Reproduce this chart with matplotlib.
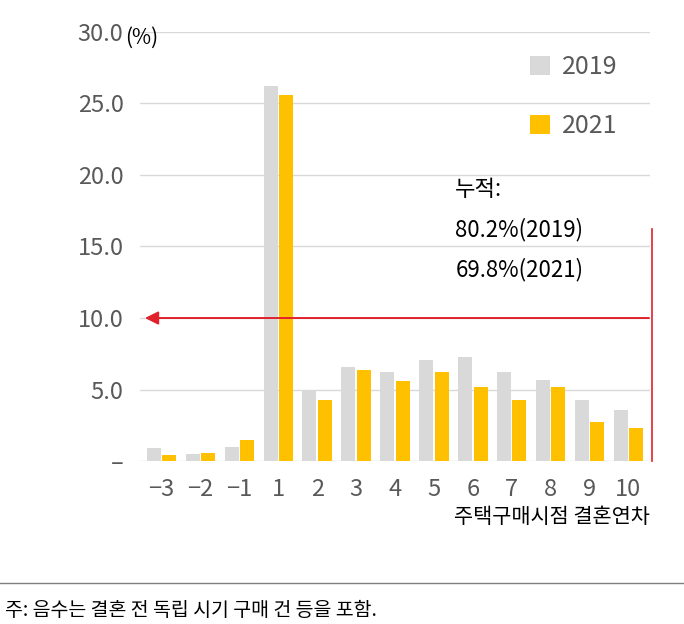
import matplotlib.pyplot as plt
import numpy as np
from matplotlib.lines import Line2D

plt.rcParams["font.family"] = ["Noto Sans CJK KR", "Noto Sans CJK JP", "Noto Sans CJK SC", "DejaVu Sans"]
plt.rcParams["axes.unicode_minus"] = True

categories = ["-3", "-2", "-1", "1", "2", "3", "4", "5", "6", "7", "8", "9", "10"]
share_2019 = [0.9, 0.5, 1.0, 26.2, 5.0, 6.6, 6.2, 7.1, 7.3, 6.2, 5.7, 4.3, 3.6]
share_2021 = [0.4, 0.6, 1.5, 25.6, 4.3, 6.4, 5.6, 6.2, 5.2, 4.3, 5.2, 2.7, 2.3]
y_ticks = [0, 5, 10, 15, 20, 25, 30]
y_tick_labels = ["–", "5.0", "10.0", "15.0", "20.0", "25.0", "30.0"]

GRAY = "#d9d9d9"
YELLOW = "#ffc000"
TEXT = "#595959"

fig = plt.figure(figsize=(6.84, 6.24), dpi=100)
ax = fig.add_axes([0.205, 0.261, 0.745, 0.688])

x = np.arange(len(categories))
w = 0.36
ax.bar(x - w / 2 - 0.02, share_2019, width=w, color=GRAY, label="2019", zorder=2)
ax.bar(x + w / 2 + 0.02, share_2021, width=w, color=YELLOW, label="2021", zorder=2)

x_right = 12.55
ax.set_xlim(-0.55, x_right)
ax.set_ylim(0, 30)
ax.set_yticks(y_ticks)
ax.set_yticklabels(y_tick_labels)
ax.set_xticks(x)
ax.set_xticklabels([c.replace("-", "−") for c in categories])
ax.tick_params(axis="both", length=0, labelsize=17, colors=TEXT, pad=12)
ax.grid(axis="y", color="#d9d9d9", linewidth=1, zorder=0)
for s in ax.spines.values():
    s.set_visible(False)

ax.set_xlabel("주택구매시점 결혼연차", fontsize=15, color="black", loc="right", labelpad=4)
fig.text(0.183, 0.94, "(%)", fontsize=15, va="center")

ax.legend(loc="upper left", bbox_to_anchor=(0.72, 1.0), frameon=False,
          fontsize=18, labelspacing=1.3, handlelength=0.8, handleheight=0.8,
          handletextpad=0.5, labelcolor=TEXT)

# cumulative note and arrow
ax.text(7.55, 19.8, "누적:\n80.2%(2019)\n69.8%(2021)", fontsize=16, va="top",
        linespacing=1.9)
ax.plot([x_right + 0.05] * 2, [0, 16.2], color="#e0202a", lw=1.2, zorder=3, clip_on=False)
ax.annotate("", xy=(-0.5, 10), xytext=(x_right + 0.05, 10),
            arrowprops=dict(arrowstyle="-|>", color="#e0202a", lw=1.4,
                            mutation_scale=20), zorder=3, annotation_clip=False)

fig.add_artist(Line2D([0.0, 1.0], [0.066, 0.066], transform=fig.transFigure,
                      color="#7f7f7f", lw=1))
fig.text(0.008, 0.022, "주: 음수는 결혼 전 독립 시기 구매 건 등을 포함.", fontsize=14, va="center")

fig.savefig("out.png", dpi=100)
